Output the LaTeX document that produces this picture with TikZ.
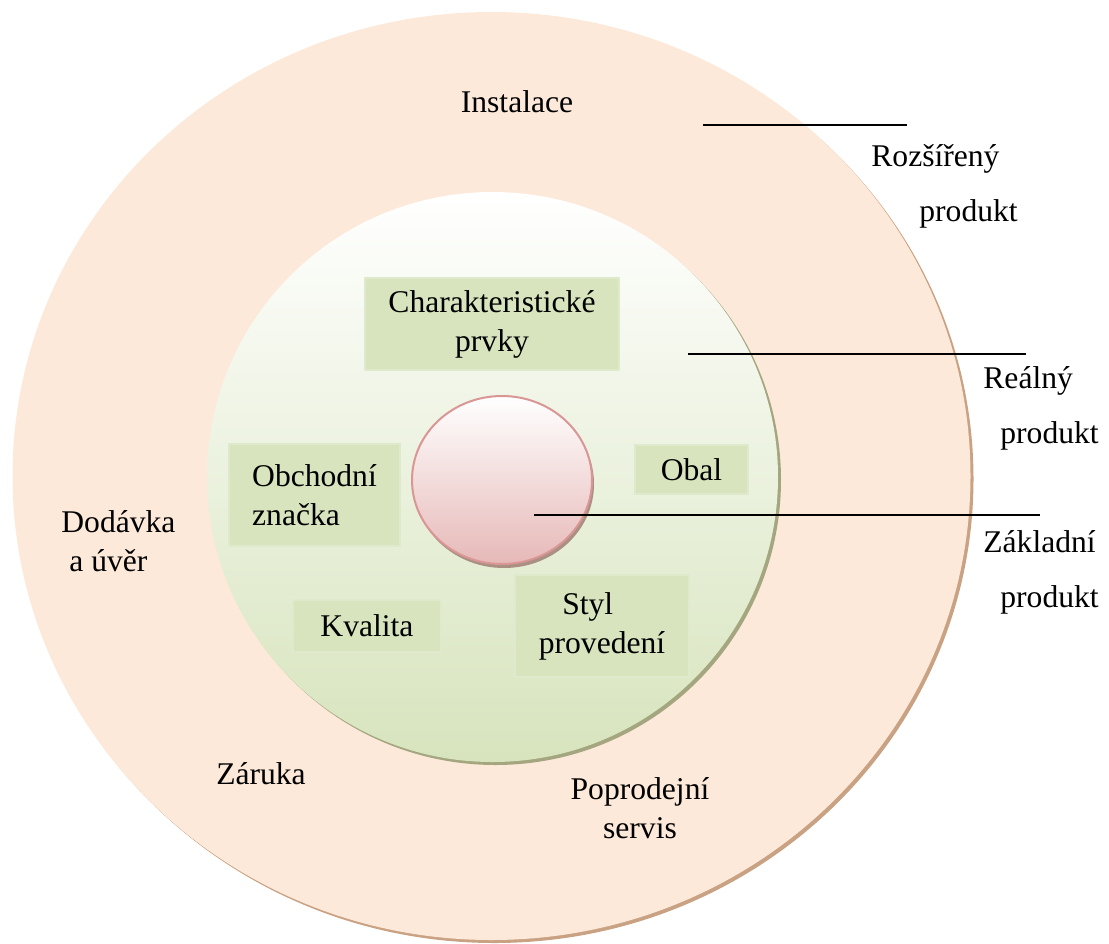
\documentclass[tikz,border=0pt]{standalone}
\usepackage{fontspec}
\setmainfont{Liberation Serif}
\usetikzlibrary{positioning,shapes.geometric,shadows}
\definecolor{PKPeach}{HTML}{FDE9D9}
\definecolor{PKPeachEdge}{HTML}{C9A183}
\definecolor{PKGreen}{HTML}{D7E4BD}
\definecolor{PKGreenEdge}{HTML}{A4A680}
\definecolor{PKRose}{HTML}{E6B9B8}
\definecolor{PKRoseEdge}{HTML}{D99694}
\definecolor{PKRoseShadow}{HTML}{A99083}
\definecolor{PKBoxEdge}{HTML}{DFE9CB}
\newcommand\prodfont{\fontsize{15.8}{19.5}\selectfont}

\begin{document}
\begin{tikzpicture}[
    x=0.5pt, y=-0.5pt,
    ringshape/.style={
      ellipse,
      inner sep=0pt
    },
    outerring/.style={
      ringshape,
      fill=PKPeach,
      general shadow={fill=PKPeachEdge, shadow xshift=1.5pt, shadow yshift=-1.5pt}
    },
    realring/.style={
      ringshape,
      top color=white,
      bottom color=PKGreen,
      general shadow={fill=PKGreenEdge, shadow xshift=1.5pt, shadow yshift=-1.5pt}
    },
    corering/.style={
      ringshape,
      draw=PKRoseEdge,
      line width=1pt,
      top color=white,
      bottom color=PKRose,
      general shadow={fill=PKRoseShadow, shadow xshift=1pt, shadow yshift=-2pt}
    },
    featbox/.style={
      rectangle,
      fill=PKGreen,
      draw=PKBoxEdge,
      line width=0.8pt,
      inner sep=0pt,
      align=center,
      font=\prodfont
    },
    prodlabel/.style={
      inner sep=0pt,
      font=\prodfont
    },
    leader/.style={
      line width=1pt,
      black
    }
  ]

  \useasboundingbox (0,0) rectangle (1109,943);

  % soustredne vrstvy produktu
  \node[outerring, minimum width=479pt, minimum height=464pt] (extended) at (491.5,476) {};
  \node[realring, minimum width=285.5pt, minimum height=285pt] (real) at (492.5,477) {};
  \node[corering, minimum width=90pt, minimum height=84pt] (core) at (502,480) {};

  % prvky realneho produktu
  \node[featbox, minimum width=127pt, minimum height=46pt] (chars) at (492,324) {Charakteristické\\prvky};
  \node[featbox, minimum width=85.5pt, minimum height=51pt, align=left] (brand) at (314.5,495) {Obchodní\\značka};
  \node[featbox, minimum width=56.5pt, minimum height=24.5pt] (pack) at (691.5,469.5) {Obal};
  \node[featbox, minimum width=74pt, minimum height=26pt] (quality) at (367,626) {Kvalita};
  \node[featbox, minimum width=87pt, minimum height=51pt] (design) at (602,626) {Styl\hspace*{0.9em}\\provedení};

  % rozsireny produkt (base = posledni radek)
  \node[prodlabel, anchor=base] (install) at (517,112) {Instalace};
  \node[prodlabel, anchor=base west, align=left] (delivery) at (61,571) {Dodávka\\\hspace*{4pt}a úvěr};
  \node[prodlabel, anchor=base] (warranty) at (261,784) {Záruka};
  \node[prodlabel, anchor=base, align=center] (service) at (640,838) {Poprodejní\\servis};

  % popisky vrstev
  \node[prodlabel, anchor=base west, align=left] (extlabel) at (871,221) {Rozšířený\\[8pt]\hspace*{24pt}produkt};
  \node[prodlabel, anchor=base west, align=left] (reallabel) at (983,443) {Reálný\\[8pt]\hspace*{8.5pt}produkt};
  \node[prodlabel, anchor=base west, align=left] (corelabel) at (983,607) {Základní\\[8pt]\hspace*{8.5pt}produkt};

  % odkazove cary
  \coordinate (extA) at (703,125);
  \coordinate (extB) at (907,125);
  \coordinate (realA) at (688,354);
  \coordinate (realB) at (1026,354);
  \coordinate (coreA) at (534,515);
  \coordinate (coreB) at (1040,515);
  \draw[leader] (extA) -- (extB);
  \draw[leader] (realA) -- (realB);
  \draw[leader] (coreA) -- (coreB);

\end{tikzpicture}
\end{document}
